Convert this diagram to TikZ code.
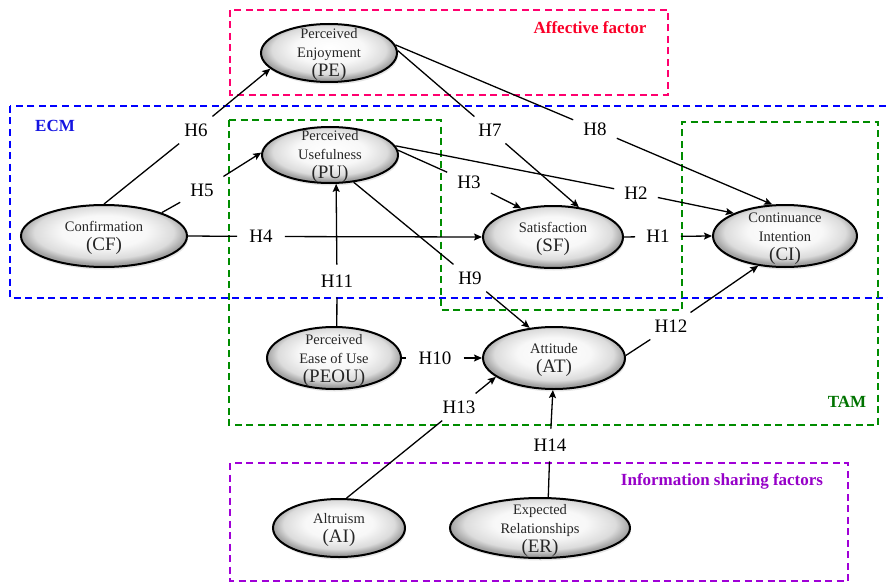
\documentclass[tikz,border=0pt]{standalone}
\usepackage{fontspec}
\setmainfont{Liberation Serif}
\usetikzlibrary{arrows.meta,shapes.geometric,shadows}
\definecolor{pinkbox}{RGB}{255,0,110}
\definecolor{afred}{RGB}{250,0,40}
\definecolor{ecmblue}{RGB}{0,0,255}
\definecolor{ecmtext}{RGB}{20,20,225}
\definecolor{tamgreen}{RGB}{0,140,0}
\definecolor{tamtext}{RGB}{0,115,0}
\definecolor{isfpurple}{RGB}{160,0,215}
\definecolor{isftext}{RGB}{150,0,200}
\pgfdeclareradialshading{ellshade}{\pgfpoint{0bp}{5bp}}{color(0bp)=(white); color(13bp)=(white!97!black); color(21bp)=(black!14); color(25bp)=(black!36); color(50bp)=(black!36)}
\newcommand\myab[1]{{\fontsize{19}{19}\selectfont #1}}
\begin{document}
\begin{tikzpicture}[x=1pt,y=-1pt,
  ell/.style={ellipse, draw=black, line width=2pt, inner sep=0pt, shade, shading=ellshade, drop shadow={shadow xshift=1pt, shadow yshift=-2.5pt, opacity=0.2}},
  txt/.style={align=center, inner sep=0pt, text=black!85, font=\fontsize{14.5}{19}\selectfont},
  lab/.style={inner xsep=10pt, inner ysep=7pt, text=black, font=\fontsize{19}{19}\selectfont},
  conn/.style={line width=1.3pt},
  arr/.style={conn, -{Stealth[length=8pt,width=7pt,inset=1.5pt]}},
  grp/.style={line width=1.3pt, dash pattern=on 7pt off 4.5pt},
  grptitle/.style={font=\bfseries\fontsize{17}{17}\selectfont, inner sep=0pt}
]
\useasboundingbox (0,0) rectangle (888,583);

% group boxes
\draw[grp, pinkbox] (230,10) rectangle (668,95);
\draw[grp, ecmblue] (10,106) rectangle (894,298);
\draw[grp, tamgreen] (229,120) -- (441,120) -- (441,310) -- (682,310) -- (682,122) -- (878,122) -- (878,425) -- (229,425) -- cycle;
\draw[grp, isfpurple] (230,463) rectangle (848,581);

\node[grptitle, text=afred] (aff) at (590,28) {Affective factor};
\node[grptitle, text=ecmtext] (ecm) at (55,126) {ECM};
\node[grptitle, text=tamtext] (tam) at (847,402) {TAM};
\node[grptitle, text=isftext] (isf) at (722,481) {Information sharing factors};

% constructs
\node[ell, minimum width=136pt, minimum height=58pt] (PE) at (329,53) {};
\node[ell, minimum width=136pt, minimum height=56pt] (PU) at (330,155) {};
\node[ell, minimum width=166pt, minimum height=62pt] (CF) at (104,236) {};
\node[ell, minimum width=140pt, minimum height=62pt] (SF) at (553,237) {};
\node[ell, minimum width=144pt, minimum height=62pt] (CI) at (785,236) {};
\node[ell, minimum width=134pt, minimum height=62pt] (PEOU) at (334,358) {};
\node[ell, minimum width=142pt, minimum height=62pt] (AT) at (554,358) {};
\node[ell, minimum width=132pt, minimum height=58pt] (AI) at (339,528) {};
\node[ell, minimum width=180pt, minimum height=60pt] (ER) at (540,528) {};

\node[txt] (PEt) at (329,54) {Perceived\\Enjoyment\\\myab{(PE)}};
\node[txt] (PUt) at (330,156) {Perceived\\Usefulness\\\myab{(PU)}};
\node[txt] (CFt) at (104,237.5) {Confirmation\\\myab{(CF)}};
\node[txt] (SFt) at (553,238.5) {Satisfaction\\\myab{(SF)}};
\node[txt] (CIt) at (785,238.5) {Continuance\\Intention\\\myab{(CI)}};
\node[txt] (PEOUt) at (334,360) {Perceived\\Ease of Use\\\myab{(PEOU)}};
\node[txt] (ATt) at (554,359.5) {Attitude\\\myab{(AT)}};
\node[txt] (AIt) at (339,529.5) {Altruism\\\myab{(AI)}};
\node[txt] (ERt) at (540,530) {Expected\\Relationships\\\myab{(ER)}};

% hypothesis labels
\node[lab, inner xsep=11pt] (h1) at (658,236.5) {H1};
\node[lab] (h2) at (636,193) {H2};
\node[lab] (h3) at (469,182) {H3};
\node[lab, inner xsep=12pt] (h4) at (261,236.5) {H4};
\node[lab] (h5) at (202,190) {H5};
\node[lab] (h6) at (196,130) {H6};
\node[lab] (h7) at (490,130) {H7};
\node[lab] (h8) at (595,129) {H8};
\node[lab] (h9) at (470,278) {H9};
\node[lab, inner xsep=12pt] (h10) at (435,358) {H10};
\node[lab, inner ysep=10pt] (h11) at (337,281) {H11};
\node[lab, inner xsep=8pt] (h12) at (671,326) {H12};
\node[lab] (h13) at (459,407) {H13};
\node[lab, inner ysep=10pt] (h14) at (550,445) {H14};

% connectors
\draw[conn] (CF.north) -- (h6);  \draw[arr] (h6) -- (PE.195);
\draw[conn] (CF.22) -- (h5);     \draw[arr] (h5) -- (PU.178);
\draw[conn] (CF.east) -- (h4);   \draw[arr] (h4) -- (SF.west);
\draw[conn] (PEOU.85) -- (h11);  \draw[arr] (h11) -- (PU.282);
\draw[conn] (PU.4) -- (h3);      \draw[arr] (h3) -- (SF.138);
\draw[conn] (PU.8) -- (h2);      \draw[arr] (h2) -- (CI.156);
\draw[conn] (PU.311) -- (h9);    \draw[arr] (h9) -- (AT.129);
\draw[conn] (PE.2) -- (h7);      \draw[arr] (h7) -- (SF.49);
\draw[conn] (PE.7) -- (h8);      \draw[arr] (h8) -- (CI.112);
\draw[conn] (SF.east) -- (h1);   \draw[arr] (h1) -- (CI.west);
\draw[conn] (PEOU.east) -- (h10); \draw[arr] (h10) -- (AT.west);
\draw[conn] (AT.2) -- (h12);     \draw[arr] (h12) -- (CI.228);
\draw[conn] (AI.76) -- (h13);    \draw[arr] (h13) -- (AT.198);
\draw[conn] (ER.75) -- (h14);    \draw[arr] (h14) -- (AT.268);
\end{tikzpicture}
\end{document}
